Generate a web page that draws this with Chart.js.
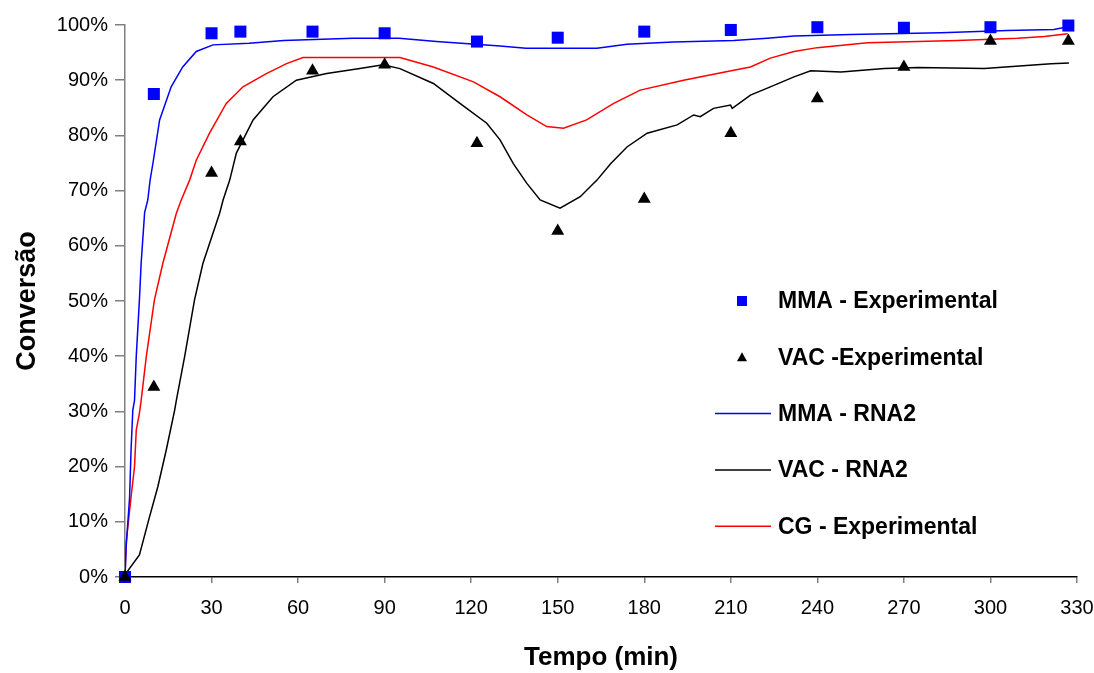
<!DOCTYPE html>
<html>
<head>
<meta charset="utf-8">
<script src="https://cdn.jsdelivr.net/npm/chart.js@4"></script>
<style>
  body { margin: 0; background: #fff; }
  #wrap { width: 1094px; height: 673px; }
</style>
</head>
<body>
<div id="wrap"><canvas id="conv-chart"></canvas></div>
<script>
// experimental points (tempo em min, conversao em %)
var expTempo = [0, 10, 30, 40, 65, 90, 122, 150, 180, 210, 240, 270, 300, 327];
var mmaExp = [0, 87.5, 98.5, 98.8, 98.8, 98.5, 97.0, 97.7, 98.8, 99.1, 99.6, 99.5, 99.6, 99.9];
var vacExp = [0, 34.4, 73.2, 78.9, 91.7, 92.8, 78.6, 62.7, 68.5, 80.4, 86.7, 92.4, 97.1, 97.1];

// MMA - RNA2
var mmaRnaT = [0, 0.4, 1.6, 2.1, 2.7, 3.3, 3.9, 5, 5.6, 6.8, 7.9, 8.7, 9.7, 12, 16, 20, 24.7, 30.5, 43, 55, 79, 95, 108, 130, 139, 163.6, 174, 190, 211, 222.6, 231.9, 251.6, 282.8, 305.9, 322, 326.8];
var mmaRna = [0, 5.5, 14.5, 23, 30.2, 32, 40, 50.2, 56.9, 66, 68.3, 71.9, 75, 82.8, 88.8, 92.4, 95.2, 96.4, 96.7, 97.2, 97.6, 97.6, 97.0, 96.2, 95.8, 95.8, 96.5, 96.9, 97.2, 97.6, 98.0, 98.3, 98.6, 99.0, 99.2, 99.7];

// VAC - RNA2
var vacRnaT = [0, 0.4, 5, 8.5, 11.4, 14.3, 17.2, 17.8, 20.7, 24.1, 27, 32.8, 34, 36.3, 38.6, 44.4, 51.3, 59.4, 69.9, 81.4, 89.5, 95.3, 106.9, 116.1, 125.4, 130, 134.6, 139.3, 143.9, 150.8, 157.8, 163.6, 168.4, 174, 181, 191.4, 197.1, 199.4, 204, 209.9, 210.5, 216.8, 223.7, 231.9, 237.7, 248.2, 263.2, 274.8, 297.9, 321, 327.2];
var vacRna = [0, 0.7, 4, 10.9, 16.4, 23, 30.2, 32, 40, 50.2, 56.8, 65.9, 68.3, 71.9, 76.8, 82.8, 87, 90, 91.2, 92.1, 92.8, 92.1, 89.4, 85.8, 82.2, 79.2, 74.9, 71.3, 68.3, 66.8, 68.9, 71.9, 74.9, 77.9, 80.4, 81.9, 83.7, 83.4, 84.9, 85.5, 84.9, 87.3, 88.8, 90.6, 91.7, 91.5, 92.1, 92.3, 92.1, 93.0, 93.1];

// CG - Experimental
var cgT = [0, 0.4, 2.1, 3.3, 3.9, 5, 5.6, 7.4, 10.2, 13.1, 17.8, 19.5, 22.4, 24.7, 29.3, 35.1, 40.9, 49, 56, 61.7, 95.3, 106.9, 120.8, 130, 139.3, 146.2, 152, 160, 169.4, 178.6, 193.6, 211, 216.8, 223.7, 231.9, 240, 257.4, 288.6, 309.4, 318.7, 326.8];
var cg = [0, 6.2, 14.5, 20, 26.6, 29.7, 32, 40, 50.2, 56.8, 65.9, 68.3, 71.9, 75.5, 80.4, 85.8, 88.8, 91.2, 93.0, 94.1, 94.1, 92.4, 89.7, 87.0, 83.7, 81.6, 81.3, 82.8, 85.8, 88.2, 90.0, 91.8, 92.4, 94.0, 95.2, 95.9, 96.8, 97.2, 97.6, 97.9, 98.4];

function pts(xs, ys) {
    var out = [];
    for (var i = 0; i < xs.length; i++) {
        out.push({x: xs[i], y: ys[i]});
    }
    return out;
}

var fontFam = 'Arial, "Liberation Sans", sans-serif';

// legend drawn inside the plot, like the excel one
var insideLegend = {
    id: 'insideLegend',
    afterDraw: function(chart) {
        var ctx = chart.ctx;
        var sets = chart.data.datasets;
        ctx.save();
        ctx.font = 'bold 23px ' + fontFam;
        ctx.textBaseline = 'middle';
        ctx.textAlign = 'left';
        for (var i = 0; i < sets.length; i++) {
            var ds = sets[i];
            var y = 301 + i * 56.3;
            if (ds.showLine === false) {
                ctx.fillStyle = ds.backgroundColor;
                ctx.beginPath();
                if (ds.pointStyle === 'rect') {
                    ctx.rect(737, y - 5, 10, 10);
                } else {
                    ctx.moveTo(742, y - 5);
                    ctx.lineTo(747, y + 4);
                    ctx.lineTo(737, y + 4);
                    ctx.closePath();
                }
                ctx.fill();
            } else {
                ctx.strokeStyle = ds.borderColor;
                ctx.lineWidth = 1.5;
                ctx.beginPath();
                ctx.moveTo(715, y);
                ctx.lineTo(771, y);
                ctx.stroke();
            }
            ctx.fillStyle = '#000';
            ctx.fillText(ds.label, 778, y + 1);
        }
        ctx.restore();
    }
};

new Chart(document.getElementById('conv-chart'), {
    type: 'scatter',
    data: {
        datasets: [
            {
                label: 'MMA - Experimental',
                data: pts(expTempo, mmaExp),
                showLine: false,
                pointStyle: 'rect',
                pointRadius: 8.5,
                backgroundColor: '#0000FF',
                borderColor: '#0000FF',
                borderWidth: 0,
                clip: false,
                order: 1
            },
            {
                label: 'VAC -Experimental',
                data: pts(expTempo, vacExp),
                showLine: false,
                pointStyle: 'triangle',
                pointRadius: 7.5,
                backgroundColor: '#000000',
                borderColor: '#000000',
                borderWidth: 0,
                clip: false,
                order: 0
            },
            {
                label: 'MMA - RNA2',
                data: pts(mmaRnaT, mmaRna),
                showLine: true,
                pointRadius: 0,
                borderColor: '#0000FF',
                borderWidth: 1.5,
                tension: 0,
                order: 3
            },
            {
                label: 'VAC - RNA2',
                data: pts(vacRnaT, vacRna),
                showLine: true,
                pointRadius: 0,
                borderColor: '#000000',
                borderWidth: 1.5,
                tension: 0,
                order: 2
            },
            {
                label: 'CG - Experimental',
                data: pts(cgT, cg),
                showLine: true,
                pointRadius: 0,
                borderColor: '#FF0000',
                borderWidth: 1.5,
                tension: 0,
                order: 4
            }
        ]
    },
    options: {
        responsive: true,
        maintainAspectRatio: false,
        animation: false,
        layout: { padding: { top: 25, right: 0, left: 0, bottom: 0 } },
        plugins: {
            legend: { display: false },
            tooltip: { enabled: false }
        },
        scales: {
            x: {
                type: 'linear',
                min: 0,
                max: 330,
                ticks: { stepSize: 30, color: '#000', padding: 13, font: { size: 20, family: fontFam } },
                grid: { drawOnChartArea: false, tickLength: 6, color: '#808080', lineWidth: 1.5 },
                border: { color: '#000', width: 1.5 },
                title: {
                    display: true,
                    text: 'Tempo (min)',
                    color: '#000',
                    font: { size: 26, weight: 'bold', family: fontFam },
                    padding: { top: 14, bottom: 0 }
                },
                afterFit: function(scale) {
                    scale.height = 96;
                    scale.paddingRight = 17;
                }
            },
            y: {
                min: 0,
                max: 100,
                ticks: {
                    stepSize: 10,
                    color: '#000',
                    padding: 7,
                    font: { size: 20, family: fontFam },
                    callback: function(v) { return v + '%'; }
                },
                grid: { drawOnChartArea: false, tickLength: 10, color: '#808080', lineWidth: 1.5 },
                border: { color: '#808080', width: 1.5 },
                title: {
                    display: true,
                    text: 'Conversão',
                    color: '#000',
                    font: { size: 27, weight: 'bold', family: fontFam },
                    padding: { top: 11, bottom: 0 }
                },
                afterFit: function(scale) { scale.width = 125; }
            }
        }
    },
    plugins: [insideLegend]
});
</script>
</body>
</html>
